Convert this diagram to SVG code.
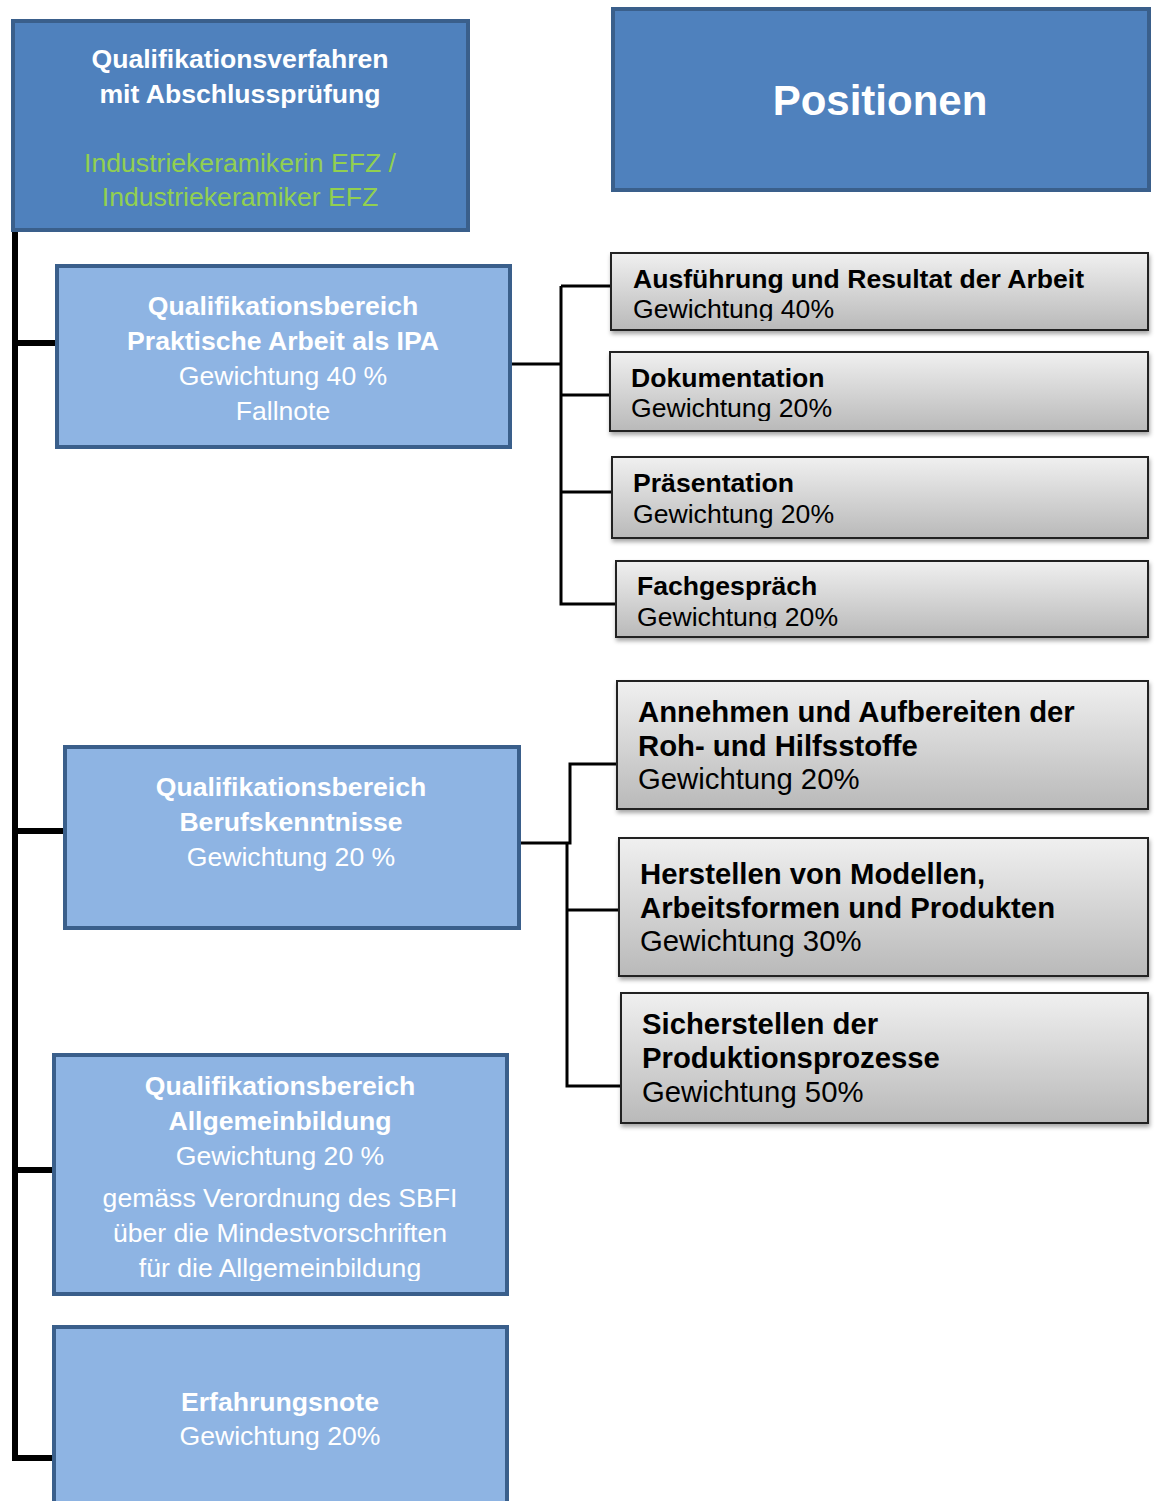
<svg xmlns="http://www.w3.org/2000/svg" width="1155" height="1501" viewBox="0 0 1155 1501">
<style>
text{font-family:"Liberation Sans",Arial,sans-serif}
.dark{fill:#4F81BD;stroke:#3A5F8B;stroke-width:4}
.light{fill:#8EB4E3;stroke:#3A5F8B;stroke-width:4}
.gray{fill:url(#gg);stroke:#222;stroke-width:2;filter:url(#sh)}
.w{fill:#fff;font-size:26.6px;text-anchor:middle}
.wb{fill:#fff;font-size:26.6px;font-weight:bold;text-anchor:middle}
.g{fill:#92D050;font-size:26.6px;text-anchor:middle}
.kb{fill:#000;font-size:26.6px;font-weight:bold}
.k{fill:#000;font-size:26.6px}
.kb2{fill:#000;font-size:29.3px;font-weight:bold}
.k2{fill:#000;font-size:29.3px}
.thick{fill:none;stroke:#000;stroke-width:6}
.thin{fill:none;stroke:#000;stroke-width:3}
</style>
<defs>
<linearGradient id="gg" x1="0" y1="0" x2="0" y2="1">
<stop offset="0" stop-color="#F0F0F0"/>
<stop offset="1" stop-color="#B9B9B9"/>
</linearGradient>
<filter id="sh" x="-5%" y="-10%" width="110%" height="130%">
<feDropShadow dx="1" dy="3" stdDeviation="2" flood-color="#000" flood-opacity="0.35"/>
</filter>
<clipPath id="c1"><rect x="611" y="252" width="538" height="69"/></clipPath>
<clipPath id="c2"><rect x="609" y="351" width="540" height="70"/></clipPath>
<clipPath id="c4"><rect x="615" y="560" width="534" height="68"/></clipPath>
<clipPath id="cab"><rect x="52" y="1053" width="457" height="228"/></clipPath>
</defs>

<g id="connectors">
<path class="thick" d="M15,232 V1458 H52"/>
<path class="thick" d="M15,343 H55"/>
<path class="thick" d="M15,831 H63"/>
<path class="thick" d="M15,1170 H52"/>
<path class="thin" d="M512,364 H561"/>
<path class="thin" d="M561,286 V604 H615"/>
<path class="thin" d="M561,286 H611"/>
<path class="thin" d="M561,395 H609"/>
<path class="thin" d="M561,492 H611"/>
<path class="thin" d="M521,843 H570 V764 H616"/>
<path class="thin" d="M567,843 V1086 H620"/>
<path class="thin" d="M567,910 H618"/>
</g>

<g id="root">
<rect class="dark" x="13" y="21" width="455" height="209"/>
<text class="wb" x="240" y="68">Qualifikationsverfahren</text>
<text class="wb" x="240" y="103">mit Abschlussprüfung</text>
<text class="g" x="240" y="172">Industriekeramikerin EFZ /</text>
<text class="g" x="240" y="206">Industriekeramiker EFZ</text>
</g>

<g id="positionen">
<rect class="dark" x="613" y="9" width="536" height="181"/>
<text class="wb" x="880" y="115" style="font-size:42px">Positionen</text>
</g>

<g id="praktisch">
<rect class="light" x="57" y="266" width="453" height="181"/>
<text class="wb" x="283" y="315">Qualifikationsbereich</text>
<text class="wb" x="283" y="350">Praktische Arbeit als IPA</text>
<text class="w" x="283" y="385">Gewichtung 40 %</text>
<text class="w" x="283" y="420">Fallnote</text>
</g>

<g id="beruf">
<rect class="light" x="65" y="747" width="454" height="181"/>
<text class="wb" x="291" y="796">Qualifikationsbereich</text>
<text class="wb" x="291" y="831">Berufskenntnisse</text>
<text class="w" x="291" y="866">Gewichtung 20 %</text>
</g>

<g id="allgemein">
<rect class="light" x="54" y="1055" width="453" height="239"/>
<g clip-path="url(#cab)">
<text class="wb" x="280" y="1095">Qualifikationsbereich</text>
<text class="wb" x="280" y="1130">Allgemeinbildung</text>
<text class="w" x="280" y="1165">Gewichtung 20 %</text>
<text class="w" x="280" y="1207">gemäss Verordnung des SBFI</text>
<text class="w" x="280" y="1242">über die Mindestvorschriften</text>
<text class="w" x="280" y="1277">für die Allgemeinbildung</text>
</g>
</g>

<g id="erfahrung">
<rect class="light" x="54" y="1327" width="453" height="190"/>
<text class="wb" x="280" y="1411">Erfahrungsnote</text>
<text class="w" x="280" y="1445">Gewichtung 20%</text>
</g>

<g id="p1">
<rect class="gray" x="611" y="253" width="537" height="77"/>
<g clip-path="url(#c1)">
<text class="kb" x="633" y="288">Ausführung und Resultat der Arbeit</text>
<text class="k" x="633" y="318">Gewichtung 40%</text>
</g>
</g>

<g id="p2">
<rect class="gray" x="610" y="352" width="538" height="79"/>
<g clip-path="url(#c2)">
<text class="kb" x="631" y="387">Dokumentation</text>
<text class="k" x="631" y="417">Gewichtung 20%</text>
</g>
</g>

<g id="p3">
<rect class="gray" x="612" y="457" width="536" height="81"/>
<text class="kb" x="633" y="492">Präsentation</text>
<text class="k" x="633" y="523">Gewichtung 20%</text>
</g>

<g id="p4">
<rect class="gray" x="616" y="561" width="532" height="76"/>
<g clip-path="url(#c4)">
<text class="kb" x="637" y="595">Fachgespräch</text>
<text class="k" x="637" y="626">Gewichtung 20%</text>
</g>
</g>

<g id="b1">
<rect class="gray" x="617" y="681" width="531" height="128"/>
<text class="kb2" x="638" y="722">Annehmen und Aufbereiten der</text>
<text class="kb2" x="638" y="756">Roh- und Hilfsstoffe</text>
<text class="k2" x="638" y="789">Gewichtung 20%</text>
</g>

<g id="b2">
<rect class="gray" x="619" y="838" width="529" height="138"/>
<text class="kb2" x="640" y="884">Herstellen von Modellen,</text>
<text class="kb2" x="640" y="918">Arbeitsformen und Produkten</text>
<text class="k2" x="640" y="951">Gewichtung 30%</text>
</g>

<g id="b3">
<rect class="gray" x="621" y="993" width="527" height="130"/>
<text class="kb2" x="642" y="1034">Sicherstellen der</text>
<text class="kb2" x="642" y="1068">Produktionsprozesse</text>
<text class="k2" x="642" y="1102">Gewichtung 50%</text>
</g>
</svg>
